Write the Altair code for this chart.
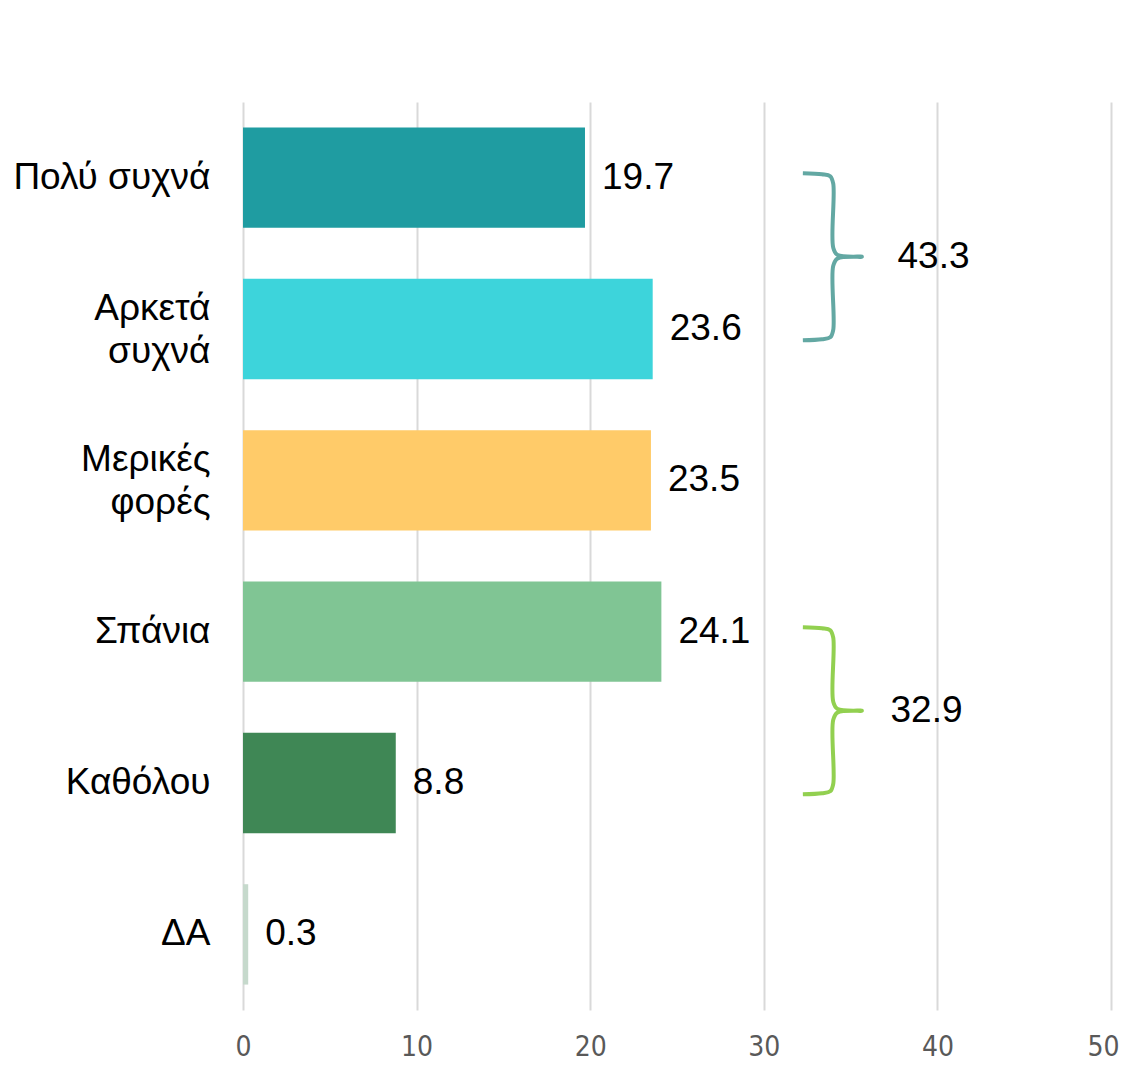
import altair as alt
import pandas as pd

# ---- data ----
categories = ["Πολύ συχνά", "Αρκετά\nσυχνά", "Μερικές\nφορές", "Σπάνια", "Καθόλου", "ΔΑ"]
values = [19.7, 23.6, 23.5, 24.1, 8.8, 0.3]
colors = ["#1f9ca1", "#3dd4db", "#ffcb69", "#80c594", "#3f8755", "#c6d9cc"]
x_ticks = [0, 10, 20, 30, 40, 50]

group_labels = ["43.3", "32.9"]
group_first = [0, 3]          # first category index of each group
group_last = [1, 4]           # last category index of each group
group_colors = ["#63a8a3", "#92d050"]
group_label_x = [37.7, 37.3]  # where each group total is written (data units)

df = pd.DataFrame({"cat": categories, "value": values, "color": colors})
df["label"] = [f"{v:.1f}" for v in values]


def brace_rows(gi, top, bottom, x0=32.25, xs=34.0, xt=35.65):
    mid = (top + bottom) / 2
    hx = xs - x0
    pts = [
        (x0, top), (x0 + 0.63 * hx, top + 0.007), (xs - 0.1 * hx, top + 0.02),
        (xs, top + 0.07), (xs, mid - 0.06), (xs + 0.15 * (xt - xs), mid - 0.012),
        (xt, mid),
        (xs + 0.15 * (xt - xs), mid + 0.012), (xs, mid + 0.06), (xs, bottom - 0.07),
        (xs - 0.1 * hx, bottom - 0.02), (x0 + 0.63 * hx, bottom - 0.007), (x0, bottom),
    ]
    return [{"g": gi, "o": k, "x": x, "y": y, "c": group_colors[gi]} for k, (x, y) in enumerate(pts)]


brace_data = []
lab_rows = []
for i in range(len(group_labels)):
    top = group_first[i] - 0.03
    bottom = group_last[i] + 0.075
    brace_data += brace_rows(i, top, bottom)
    lab_rows.append({"x": group_label_x[i], "y": (top + bottom) / 2, "t": group_labels[i]})
bdf = pd.DataFrame(brace_data)
ldf = pd.DataFrame(lab_rows)

n = len(categories)
xscale = alt.Scale(domain=[0, 50], nice=False)
FONT = "Liberation Sans, Arial, sans-serif"

base = alt.Chart(df)
bars = base.mark_bar().encode(
    x=alt.X("value:Q", scale=xscale,
            axis=alt.Axis(values=x_ticks, title=None, domain=False, ticks=False,
                          grid=True, gridColor="#d9d9d9", gridWidth=2,
                          labelColor="#595959", labelFontSize=28, labelFlush=False,
                          labelAlign={"condition": {"test": "datum.value >= 50", "value": "right"},
                                      "value": "center"},
                          labelOffset={"condition": {"test": "datum.value >= 50", "value": 8},
                                       "value": 0},
                          labelFont="Liberation Sans Narrow, DejaVu Sans Condensed, sans-serif",
                          labelPadding=23)),
    y=alt.Y("cat:N", sort=categories,
            scale=alt.Scale(paddingInner=0.337, paddingOuter=0.168),
            axis=alt.Axis(title=None, domain=False, ticks=False, labelFontSize=37,
                          labelFont=FONT, labelColor="#000000",
                          labelPadding=33, labelLineHeight=43, labelLimit=400,
                          labelOffset={"condition": {"test": "indexof(datum.label, '\\n') >= 0",
                                                     "value": -20},
                                       "value": 0},
                          labelExpr="split(datum.label, '\\n')")),
    color=alt.Color("color:N", scale=None),
)
texts = base.mark_text(align="left", baseline="middle", dx=17, fontSize=37,
                       font=FONT, color="#000000").encode(
    x=alt.X("value:Q", scale=xscale),
    y=alt.Y("cat:N", sort=categories),
    text="label:N",
)
main = alt.layer(bars, texts)

yq = alt.Scale(domain=[-0.5, n - 0.5], reverse=True, nice=False, zero=False)
braces = alt.Chart(bdf).mark_line(interpolate="catmull-rom", strokeWidth=4).encode(
    x=alt.X("x:Q", scale=xscale),
    y=alt.Y("y:Q", scale=yq, axis=None),
    order="o:Q",
    detail="g:N",
    color=alt.Color("c:N", scale=None),
)
blabels = alt.Chart(ldf).mark_text(align="left", baseline="middle", fontSize=37,
                                   font=FONT, color="#000000").encode(
    x=alt.X("x:Q", scale=xscale),
    y=alt.Y("y:Q", scale=yq, axis=None),
    text="t:N",
)
ann = alt.layer(braces, blabels)

chart = alt.layer(main, ann).resolve_scale(y="independent").properties(
    width=868, height=908,
    padding={"left": 235, "top": 94, "right": 8, "bottom": 54},
    autosize=alt.AutoSizeParams(type="none"),
).configure_view(stroke=None)

chart.save("out.html", embed_options={"renderer": "svg", "actions": False})
